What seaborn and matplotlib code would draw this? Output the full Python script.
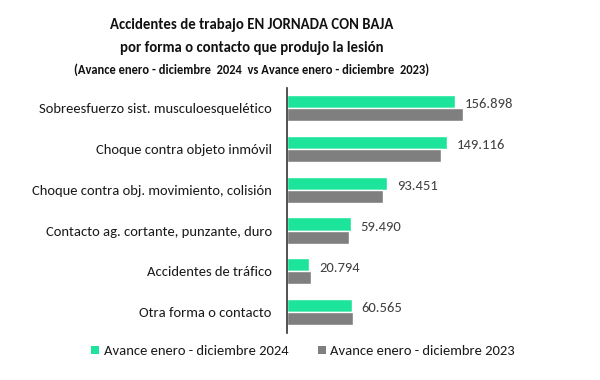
import matplotlib
matplotlib.use("Agg")
import matplotlib.pyplot as plt
import seaborn as sns
import pandas as pd
from matplotlib.patches import Patch

categories = [
    "Sobreesfuerzo sist. musculoesquelético",
    "Choque contra objeto inmóvil",
    "Choque contra obj. movimiento, colisión",
    "Contacto ag. cortante, punzante, duro",
    "Accidentes de tráfico",
    "Otra forma o contacto",
]
series_names = ["Avance enero - diciembre 2024", "Avance enero - diciembre 2023"]
values_2024 = [156898, 149116, 93451, 59490, 20794, 60565]
values_2023 = [164100, 144100, 89400, 58200, 22100, 61200]
label_2024 = ["156.898", "149.116", "93.451", "59.490", "20.794", "60.565"]

colors = ["#1de49b", "#7f7f7f"]

df = pd.DataFrame({
    "categoria": categories * 2,
    "serie": [series_names[0]] * len(categories) + [series_names[1]] * len(categories),
    "valor": values_2024 + values_2023,
})

sns.set_theme(style="white")
plt.rcParams["font.family"] = ["Carlito", "DejaVu Sans"]

fig = plt.figure(figsize=(6, 3.8), dpi=100)
ax = fig.add_axes([0.4783, 0.125, 0.455, 0.644])

sns.barplot(data=df, y="categoria", x="valor", hue="serie", orient="h",
            palette=colors, width=0.64, saturation=1, ax=ax, legend=False)

ax.set_xlim(0, 255000)
ax.set_ylim(5.5, -0.5)
ax.set_xlabel("")
ax.set_ylabel("")
ax.set_xticks([])
for s in ["top", "right", "bottom"]:
    ax.spines[s].set_visible(False)
ax.spines["left"].set_color("#333333")
ax.spines["left"].set_linewidth(1.2)
ax.tick_params(axis="y", length=0, pad=11, labelsize=10.5, labelcolor="#1a1a1a")

anns = ax.bar_label(ax.containers[0], labels=label_2024, padding=7, fontsize=10.5,
                    color="#404040")
for a in anns:
    a.xyann = (7, -2)

fig.text(0.42, 0.934, "Accidentes de trabajo EN JORNADA CON BAJA", ha="center",
         va="center", fontsize=10.6, fontweight="bold", color="#111111")
fig.text(0.42, 0.874, "por forma o contacto que produjo la lesión", ha="center",
         va="center", fontsize=10.6, fontweight="bold", color="#111111")
fig.text(0.42, 0.816, "(Avance enero - diciembre  2024  vs Avance enero - diciembre  2023)",
         ha="center", va="center", fontsize=9, fontweight="bold", color="#111111")

handles = [Patch(facecolor=c, edgecolor="none") for c in colors]
fig.legend(handles, series_names, loc="center", bbox_to_anchor=(0.505, 0.076),
           ncol=2, frameon=False, fontsize=10.5, handlelength=0.55,
           handleheight=0.55, handletextpad=0.3, columnspacing=2.0,
           labelcolor="#1a1a1a")

fig.savefig("out.png", dpi=100, facecolor="white")
